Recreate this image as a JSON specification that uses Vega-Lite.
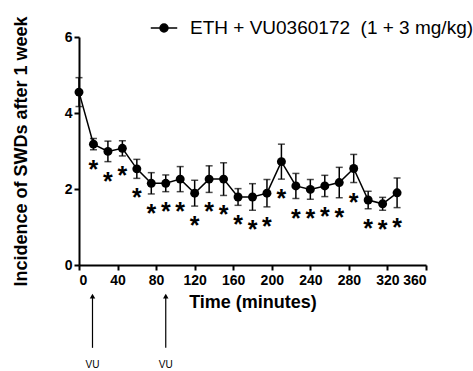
{
  "$schema": "https://vega.github.io/schema/vega-lite/v6.json",
  "autosize": {"type": "none"},
  "width": 347,
  "height": 228,
  "padding": {"left": 79, "top": 37, "right": 47, "bottom": 106},
  "background": "white",
  "config": {
    "view": {"stroke": null},
    "font": "Liberation Sans",
    "axis": {
      "domainColor": "black", "domainWidth": 2, "tickColor": "black", "tickWidth": 2, "tickSize": 5,
      "labelFont": "Liberation Sans", "labelFontWeight": "bold", "labelFontSize": 14, "labelColor": "black",
      "titleFont": "Liberation Sans", "titleFontWeight": "bold", "titleFontSize": 18, "titleColor": "black",
      "grid": false
    }
  },
  "datasets": {
    "main": [
      {"t": 0, "mean": 4.55, "lo": 4.17, "hi": 4.93, "sig": "", "series": "ETH + VU0360172 \u00a0(1 + 3 mg/kg)"},
      {"t": 15, "mean": 3.18, "lo": 3.03, "hi": 3.33, "sig": "*", "series": "ETH + VU0360172 \u00a0(1 + 3 mg/kg)"},
      {"t": 30, "mean": 2.99, "lo": 2.72, "hi": 3.26, "sig": "*", "series": "ETH + VU0360172 \u00a0(1 + 3 mg/kg)"},
      {"t": 45, "mean": 3.07, "lo": 2.87, "hi": 3.27, "sig": "*", "series": "ETH + VU0360172 \u00a0(1 + 3 mg/kg)"},
      {"t": 60, "mean": 2.53, "lo": 2.28, "hi": 2.78, "sig": "*", "series": "ETH + VU0360172 \u00a0(1 + 3 mg/kg)"},
      {"t": 75, "mean": 2.15, "lo": 1.87, "hi": 2.43, "sig": "*", "series": "ETH + VU0360172 \u00a0(1 + 3 mg/kg)"},
      {"t": 90, "mean": 2.15, "lo": 1.93, "hi": 2.37, "sig": "*", "series": "ETH + VU0360172 \u00a0(1 + 3 mg/kg)"},
      {"t": 105, "mean": 2.26, "lo": 1.93, "hi": 2.59, "sig": "*", "series": "ETH + VU0360172 \u00a0(1 + 3 mg/kg)"},
      {"t": 120, "mean": 1.89, "lo": 1.55, "hi": 2.23, "sig": "*", "series": "ETH + VU0360172 \u00a0(1 + 3 mg/kg)"},
      {"t": 135, "mean": 2.26, "lo": 1.91, "hi": 2.61, "sig": "*", "series": "ETH + VU0360172 \u00a0(1 + 3 mg/kg)"},
      {"t": 150, "mean": 2.26, "lo": 1.83, "hi": 2.69, "sig": "*", "series": "ETH + VU0360172 \u00a0(1 + 3 mg/kg)"},
      {"t": 165, "mean": 1.79, "lo": 1.57, "hi": 2.01, "sig": "*", "series": "ETH + VU0360172 \u00a0(1 + 3 mg/kg)"},
      {"t": 180, "mean": 1.79, "lo": 1.44, "hi": 2.14, "sig": "*", "series": "ETH + VU0360172 \u00a0(1 + 3 mg/kg)"},
      {"t": 195, "mean": 1.89, "lo": 1.53, "hi": 2.25, "sig": "*", "series": "ETH + VU0360172 \u00a0(1 + 3 mg/kg)"},
      {"t": 210, "mean": 2.72, "lo": 2.26, "hi": 3.18, "sig": "*", "series": "ETH + VU0360172 \u00a0(1 + 3 mg/kg)"},
      {"t": 225, "mean": 2.08, "lo": 1.75, "hi": 2.41, "sig": "*", "series": "ETH + VU0360172 \u00a0(1 + 3 mg/kg)"},
      {"t": 240, "mean": 1.99, "lo": 1.73, "hi": 2.25, "sig": "*", "series": "ETH + VU0360172 \u00a0(1 + 3 mg/kg)"},
      {"t": 255, "mean": 2.08, "lo": 1.8, "hi": 2.36, "sig": "*", "series": "ETH + VU0360172 \u00a0(1 + 3 mg/kg)"},
      {"t": 270, "mean": 2.17, "lo": 1.77, "hi": 2.57, "sig": "*", "series": "ETH + VU0360172 \u00a0(1 + 3 mg/kg)"},
      {"t": 285, "mean": 2.54, "lo": 2.17, "hi": 2.91, "sig": "*", "series": "ETH + VU0360172 \u00a0(1 + 3 mg/kg)"},
      {"t": 300, "mean": 1.71, "lo": 1.48, "hi": 1.94, "sig": "*", "series": "ETH + VU0360172 \u00a0(1 + 3 mg/kg)"},
      {"t": 315, "mean": 1.61, "lo": 1.44, "hi": 1.78, "sig": "*", "series": "ETH + VU0360172 \u00a0(1 + 3 mg/kg)"},
      {"t": 330, "mean": 1.9, "lo": 1.51, "hi": 2.29, "sig": "*", "series": "ETH + VU0360172 \u00a0(1 + 3 mg/kg)"}
    ],
    "doses": [
      {"t": 14, "label": "VU"},
      {"t": 90, "label": "VU"}
    ]
  },
  "data": {"name": "main"},
  "encoding": {
    "x": {"field": "t", "type": "quantitative",
      "scale": {"domain": [0, 360], "nice": false, "zero": false},
      "axis": {"values": [0, 40, 80, 120, 160, 200, 240, 280, 320, 360], "title": "Time (minutes)", "titlePadding": 6, "labelPadding": 3}}
  },
  "layer": [
    {
      "mark": {"type": "rule", "color": "black", "strokeWidth": 1.5},
      "encoding": {
        "y": {"field": "lo", "type": "quantitative",
          "scale": {"domain": [0, 6], "nice": false},
          "axis": {"values": [0, 2, 4, 6], "title": "Incidence of SWDs after 1 week", "titlePadding": 34, "labelPadding": 2}},
        "y2": {"field": "hi"}
      }
    },
    {
      "mark": {"type": "tick", "color": "black", "orient": "horizontal", "size": 7, "thickness": 1.5},
      "encoding": {"y": {"field": "lo", "type": "quantitative"}}
    },
    {
      "mark": {"type": "tick", "color": "black", "orient": "horizontal", "size": 7, "thickness": 1.5},
      "encoding": {"y": {"field": "hi", "type": "quantitative"}}
    },
    {
      "mark": {"type": "line", "strokeWidth": 1.5},
      "encoding": {
        "y": {"field": "mean", "type": "quantitative"},
        "color": {"field": "series", "type": "nominal", "scale": {"range": ["black"]},
          "legend": {"orient": "none", "legendX": 71, "legendY": -23, "title": null,
            "symbolType": "M-1,0H1M-0.3,0A0.3,0.3 0 1,1 0.3,0A0.3,0.3 0 1,1 -0.3,0",
            "symbolSize": 700, "symbolFillColor": "black", "symbolStrokeColor": "black", "symbolStrokeWidth": 1.5,
            "labelFont": "Liberation Sans", "labelFontSize": 19, "labelColor": "black", "labelLimit": 400, "labelOffset": 12}}
      }
    },
    {
      "mark": {"type": "point", "filled": true, "opacity": 1, "size": 80, "shape": "circle"},
      "encoding": {
        "y": {"field": "mean", "type": "quantitative"},
        "color": {"field": "series", "type": "nominal"}
      }
    },
    {
      "mark": {"type": "text", "fontSize": 25, "fontWeight": "bold", "color": "black", "baseline": "alphabetic", "dy": 28, "font": "Liberation Sans"},
      "encoding": {
        "y": {"field": "lo", "type": "quantitative"},
        "text": {"field": "sig"}
      }
    },
    {
      "data": {"name": "doses"},
      "mark": {"type": "rule", "color": "black", "strokeWidth": 1.2, "clip": false},
      "encoding": {
        "x": {"field": "t", "type": "quantitative"},
        "y": {"datum": -0.85},
        "y2": {"datum": -2.18}
      }
    },
    {
      "data": {"name": "doses"},
      "mark": {"type": "point", "shape": "triangle-up", "filled": true, "color": "black", "opacity": 1, "size": 30, "clip": false},
      "encoding": {
        "x": {"field": "t", "type": "quantitative"},
        "y": {"datum": -0.82}
      }
    },
    {
      "data": {"name": "doses"},
      "mark": {"type": "text", "fontSize": 10, "color": "black", "baseline": "middle", "clip": false},
      "encoding": {
        "x": {"field": "t", "type": "quantitative"},
        "y": {"datum": -2.62},
        "text": {"field": "label"}
      }
    }
  ]
}
